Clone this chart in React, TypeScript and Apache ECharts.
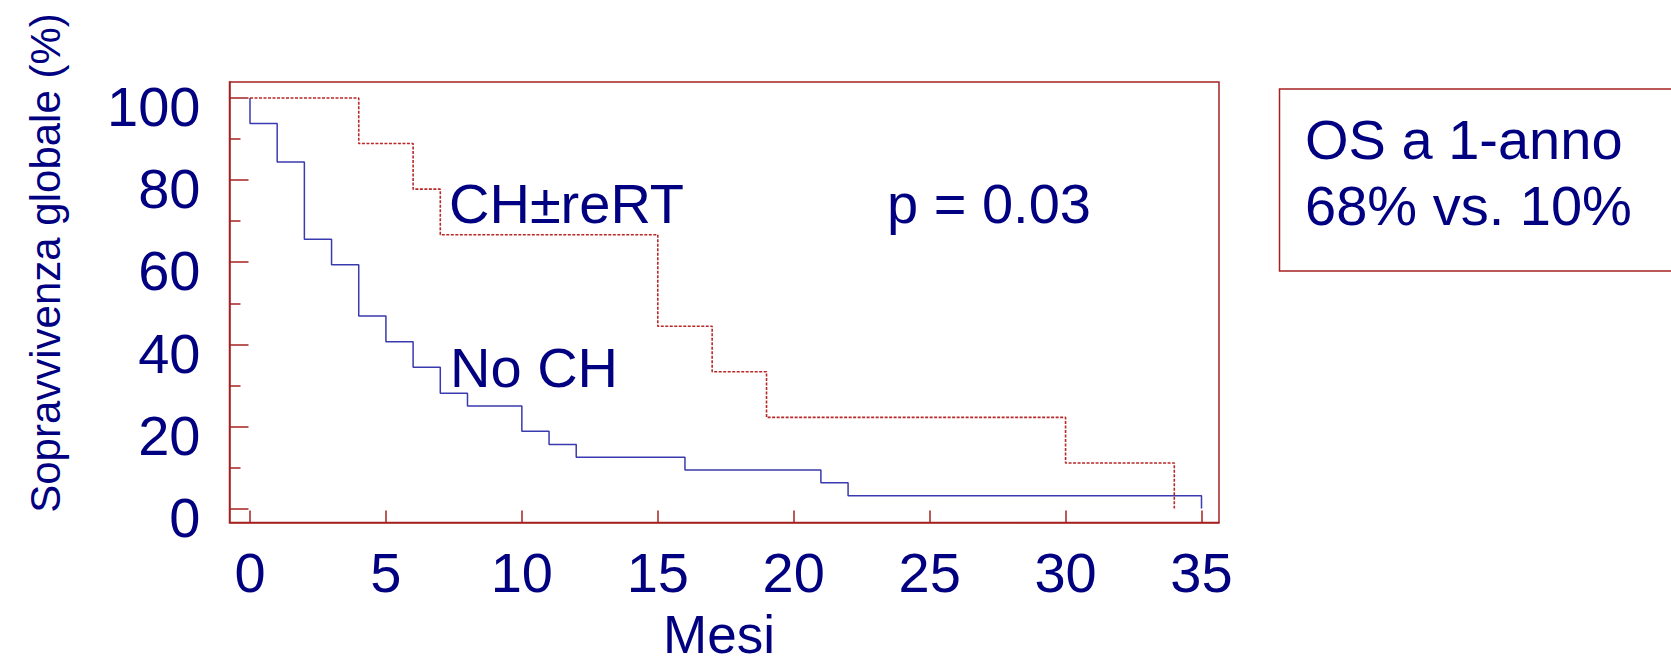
import React, { useEffect, useRef } from "react";
import * as echarts from "echarts";

// Kaplan-Meier points: [month, survival %] (step drawn after each point)
const chReRtMonths = [0, 4, 6, 7, 15, 17, 19, 30, 34];
const chReRtSurvival = [100, 88.9, 77.8, 66.7, 44.4, 33.3, 22.2, 11.1, 0];

const noChMonths = [0, 0, 1, 2, 3, 4, 5, 6, 7, 8, 10, 11, 12, 16, 21, 22, 35];
const noChSurvival = [100, 93.8, 84.4, 65.6, 59.4, 46.9, 40.6, 34.4, 28.1, 25, 18.8, 15.6, 12.5, 9.4, 6.3, 3.1, 0];

const xTickValues = [0, 5, 10, 15, 20, 25, 30, 35];
const yMajorTicks = [0, 20, 40, 60, 80, 100];
const yMinorTicks = [10, 30, 50, 70, 90];

const seriesNames = ["CH±reRT", "No CH"];
const xAxisTitle = "Mesi";
const yAxisTitle = "Sopravvivenza globale (%)";
const pValueText = "p = 0.03";
const boxLines = ["OS a 1-anno", "68% vs. 10%"];

const FONT = "'Liberation Sans', Arial, sans-serif";
const NAVY = "#000080";
const AXIS_RED = "#a52222";

const Y_MIN = -3.41;
const Y_MAX = 103.9;
// the reference prints its y tick labels slightly below their ticks
const Y_LABEL_SHIFT = 2.14;

function textEl(text: string, x: number, y: number, fontSize: number, align: string, extra: any = {}) {
  return {
    type: "text",
    x,
    y,
    ...extra,
    style: {
      text,
      fontFamily: FONT,
      fontSize,
      fill: NAVY,
      align,
      verticalAlign: "middle",
      textAlign: align,
      textVerticalAlign: "middle",
      ...(extra.style || {}),
    },
  };
}

export default function App() {
  const ref = useRef<HTMLDivElement>(null);

  useEffect(() => {
    if (!ref.current) return;
    const chart = echarts.init(ref.current, null, { renderer: "svg" });

    const redData = chReRtMonths.map((m, i) => [m, chReRtSurvival[i]]);
    const blueData = noChMonths.map((m, i) => [m, noChSurvival[i]]);

    const labelStyle = {
      fontFamily: FONT,
      fontSize: 56,
      color: NAVY,
    };

    chart.setOption({
      animation: false,
      backgroundColor: "#ffffff",
      grid: {
        left: 229.5,
        top: 82,
        right: 452,
        bottom: 140.5,
        containLabel: false,
        outerBoundsMode: "none",
        show: true,
        borderColor: AXIS_RED,
        borderWidth: 1.5,
        backgroundColor: "transparent",
      },
      xAxis: {
        type: "value",
        min: -0.754,
        max: 35.644,
        position: "bottom",
        axisLine: { show: true, onZero: false, lineStyle: { color: AXIS_RED, width: 1.5 } },
        axisTick: {
          show: true,
          inside: true,
          length: 12,
          customValues: xTickValues,
          lineStyle: { color: AXIS_RED, width: 1.5 },
        },
        axisLabel: { ...labelStyle, margin: 22, customValues: xTickValues },
        splitLine: { show: false },
      },
      yAxis: [
        {
          type: "value",
          min: Y_MIN,
          max: Y_MAX,
          position: "left",
          axisLine: { show: true, onZero: false, lineStyle: { color: AXIS_RED, width: 1.5 } },
          axisTick: {
            show: true,
            inside: true,
            length: 19,
            customValues: yMajorTicks,
            lineStyle: { color: AXIS_RED, width: 1.5 },
          },
          axisLabel: { show: false },
          splitLine: { show: false },
        },
        {
          type: "value",
          min: Y_MIN,
          max: Y_MAX,
          position: "left",
          axisLine: { show: false, onZero: false },
          axisTick: {
            show: true,
            inside: true,
            length: 11,
            customValues: yMinorTicks,
            lineStyle: { color: AXIS_RED, width: 1.5 },
          },
          axisLabel: { show: false },
          splitLine: { show: false },
        },
        {
          type: "value",
          min: Y_MIN + Y_LABEL_SHIFT,
          max: Y_MAX + Y_LABEL_SHIFT,
          position: "left",
          axisLine: { show: false, onZero: false },
          axisTick: { show: false },
          axisLabel: { ...labelStyle, margin: 29, customValues: yMajorTicks },
          splitLine: { show: false },
        },
      ],
      series: [
        {
          name: seriesNames[1],
          type: "line",
          step: "end",
          showSymbol: false,
          data: blueData,
          lineStyle: { color: "#3a3ab0", width: 1.5 },
          z: 3,
        },
        {
          name: seriesNames[0],
          type: "line",
          step: "end",
          showSymbol: false,
          data: redData,
          lineStyle: { color: "#b82828", width: 1.6, type: [3, 1.5] },
          z: 4,
        },
      ],
      graphic: [
        textEl(yAxisTitle, 45, 263, 42, "center", { rotation: Math.PI / 2 }),
        textEl(xAxisTitle, 719, 634, 53, "center", { style: { lineHeight: 52 } }),
        textEl(seriesNames[0], 449, 203, 56, "left"),
        textEl(seriesNames[1], 450, 367, 56, "left"),
        textEl(pValueText, 887, 203, 56, "left"),
        {
          type: "rect",
          shape: { x: 1279.5, y: 89, width: 500, height: 182 },
          style: { fill: "none", stroke: AXIS_RED, lineWidth: 1.5 },
        },
        textEl(boxLines[0], 1305, 139.5, 56, "left"),
        textEl(boxLines[1], 1305, 205, 56, "left"),
      ],
    });

    return () => {
      chart.dispose();
    };
  }, []);

  return (
    <div
      ref={ref}
      style={{ position: "absolute", left: 0, top: 0, width: 1671, height: 663 }}
    />
  );
}
